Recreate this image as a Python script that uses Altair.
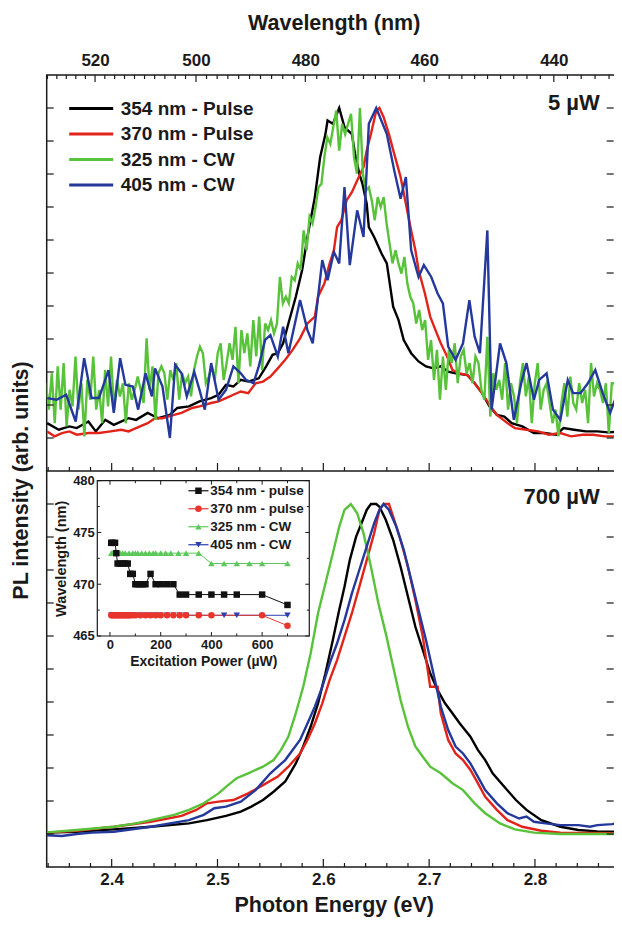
import altair as alt
import pandas as pd

FONT = "Liberation Sans"
INK = "#1a1a1a"
HC = 1239.84  # eV*nm, photon energy <-> wavelength

series_names = ["354 nm - Pulse", "370 nm - Pulse", "325 nm - CW", "405 nm - CW"]
series_colors = ["#000000", "#e2231a", "#58c23a", "#24399b"]
inset_names = ["354 nm - pulse", "370 nm - pulse", "325 nm - CW", "405 nm - CW"]
inset_colors = ["#111111", "#e8362c", "#5cc85a", "#2a3fae"]
inset_shapes = ["square", "circle", "triangle-up", "triangle-down"]

x_domain = [2.3386, 2.881]
y_domain = [-0.1, 2.3]          # bottom panel -0.1..1.1, top panel 1.1..2.3
panel_shift = 1.2
energy_major = [2.4, 2.5, 2.6, 2.7, 2.8]
energy_minor = [2.34, 2.36, 2.38, 2.42, 2.44, 2.46, 2.48, 2.52, 2.54, 2.56, 2.58,
                2.62, 2.64, 2.66, 2.68, 2.72, 2.74, 2.76, 2.78, 2.82, 2.84, 2.86, 2.88]
wl_major = [520, 500, 480, 460, 440]
wl_minor = [530, 528, 526, 524, 522, 518, 516, 514, 512, 510, 508, 506, 504, 502,
            498, 496, 494, 492, 490, 488, 486, 484, 482, 478, 476, 474, 472, 470,
            468, 466, 464, 462, 458, 456, 454, 452, 450, 448, 446, 444, 442, 438,
            436, 434, 432]
intensity_ticks = [0.0, 0.1, 0.2, 0.3, 0.4, 0.5, 0.6, 0.7, 0.8, 0.9, 1.0]
panel_labels = ["5 \u00b5W", "700 \u00b5W"]

# ---------------- top panel (5 uW): (energy eV, normalized PL) ----------------
top_black = [(2.339, 0.045), (2.350, 0.025), (2.360, 0.035), (2.367, 0.030), (2.378, 0.050),
             (2.385, 0.020), (2.394, 0.055), (2.402, 0.040), (2.416, 0.060), (2.423, 0.055),
             (2.434, 0.076), (2.444, 0.060), (2.455, 0.070), (2.462, 0.091), (2.473, 0.096),
             (2.483, 0.111), (2.494, 0.121), (2.501, 0.131), (2.508, 0.161), (2.515, 0.156),
             (2.522, 0.176), (2.529, 0.171), (2.539, 0.181), (2.546, 0.217), (2.552, 0.252),
             (2.557, 0.257), (2.562, 0.287), (2.567, 0.347), (2.574, 0.428), (2.580, 0.509),
             (2.585, 0.609), (2.592, 0.730), (2.597, 0.851), (2.602, 0.921), (2.604, 0.962),
             (2.609, 0.952), (2.615, 1.000), (2.620, 0.942), (2.627, 0.921), (2.630, 0.861),
             (2.634, 0.801), (2.637, 0.770), (2.641, 0.710), (2.643, 0.639), (2.648, 0.609),
             (2.655, 0.559), (2.660, 0.529), (2.666, 0.398), (2.671, 0.358), (2.676, 0.297),
             (2.683, 0.257), (2.690, 0.232), (2.697, 0.217), (2.704, 0.211), (2.711, 0.217),
             (2.718, 0.201), (2.725, 0.196), (2.736, 0.191), (2.743, 0.166), (2.750, 0.136),
             (2.757, 0.096), (2.764, 0.070), (2.771, 0.065), (2.778, 0.045), (2.788, 0.035),
             (2.799, 0.015), (2.809, 0.015), (2.820, 0.010), (2.827, 0.030), (2.837, 0.025),
             (2.848, 0.020), (2.859, 0.020), (2.869, 0.017), (2.881, 0.020)]

top_red = [(2.339, 0.020), (2.346, 0.005), (2.353, 0.015), (2.360, 0.020), (2.367, 0.010),
           (2.378, 0.015), (2.388, 0.015), (2.399, 0.020), (2.409, 0.025), (2.416, 0.020),
           (2.423, 0.030), (2.434, 0.045), (2.441, 0.060), (2.448, 0.060), (2.459, 0.070),
           (2.466, 0.076), (2.476, 0.091), (2.483, 0.096), (2.494, 0.106), (2.501, 0.111),
           (2.508, 0.121), (2.515, 0.131), (2.522, 0.141), (2.529, 0.136), (2.536, 0.166),
           (2.543, 0.171), (2.550, 0.186), (2.557, 0.211), (2.564, 0.237), (2.571, 0.267),
           (2.578, 0.302), (2.585, 0.347), (2.592, 0.368), (2.595, 0.428), (2.601, 0.468),
           (2.606, 0.529), (2.610, 0.569), (2.613, 0.639), (2.617, 0.660), (2.622, 0.720),
           (2.627, 0.745), (2.632, 0.780), (2.638, 0.821), (2.641, 0.871), (2.645, 0.921),
           (2.650, 0.992), (2.653, 1.000), (2.657, 0.972), (2.662, 0.921), (2.667, 0.861),
           (2.673, 0.791), (2.678, 0.710), (2.683, 0.629), (2.687, 0.569), (2.690, 0.509),
           (2.696, 0.438), (2.701, 0.368), (2.706, 0.327), (2.711, 0.287), (2.717, 0.247),
           (2.722, 0.206), (2.729, 0.196), (2.736, 0.191), (2.743, 0.166), (2.750, 0.136),
           (2.757, 0.101), (2.764, 0.070), (2.774, 0.045), (2.781, 0.030), (2.792, 0.025),
           (2.803, 0.020), (2.813, 0.010), (2.824, 0.015), (2.834, 0.005), (2.845, 0.010),
           (2.855, 0.010), (2.866, 0.005), (2.881, 0.005)]

top_green_E = [2.3378, 2.3406, 2.3434, 2.3462, 2.3490, 2.3518, 2.3546, 2.3574,
               2.3602, 2.3630, 2.3658, 2.3686, 2.3714, 2.3742, 2.3770, 2.3798, 2.3826, 2.3854,
               2.3882, 2.3910, 2.3938, 2.3966, 2.3994, 2.4022, 2.4050, 2.4078, 2.4106, 2.4134,
               2.4162, 2.4190, 2.4218, 2.4246, 2.4274, 2.4302, 2.4330, 2.4358, 2.4386, 2.4414,
               2.4442, 2.4470, 2.4498, 2.4526, 2.4554, 2.4582, 2.4610, 2.4638, 2.4666, 2.4694,
               2.4722, 2.4750, 2.4778, 2.4806, 2.4834, 2.4862, 2.4890, 2.4918, 2.4946, 2.4974,
               2.5002, 2.5030, 2.5058, 2.5086, 2.5114, 2.5142, 2.5170, 2.5198, 2.5226, 2.5254,
               2.5282, 2.5310, 2.5338, 2.5366, 2.5394, 2.5422, 2.5450, 2.5478, 2.5506, 2.5534,
               2.5562, 2.5590, 2.5618, 2.5646, 2.5674, 2.5702, 2.5730, 2.5758, 2.5786, 2.5814,
               2.5842, 2.5870, 2.5898, 2.5926, 2.5954, 2.5982, 2.6010, 2.6038, 2.6066, 2.6094,
               2.6122, 2.6150, 2.6178, 2.6206, 2.6234, 2.6262, 2.6290, 2.6318, 2.6346, 2.6374,
               2.6402, 2.6430, 2.6458, 2.6486, 2.6514, 2.6542, 2.6570, 2.6598, 2.6626, 2.6654,
               2.6682, 2.6710, 2.6738, 2.6766, 2.6794, 2.6822, 2.6850, 2.6878, 2.6906, 2.6934,
               2.6962, 2.6990, 2.7018, 2.7046, 2.7074, 2.7102, 2.7130, 2.7158, 2.7186, 2.7214,
               2.7242, 2.7270, 2.7298, 2.7326, 2.7354, 2.7382, 2.7410, 2.7438, 2.7466, 2.7494,
               2.7522, 2.7550, 2.7578, 2.7606, 2.7634, 2.7662, 2.7690, 2.7718, 2.7746, 2.7774,
               2.7802, 2.7830, 2.7858, 2.7886, 2.7914, 2.7942, 2.7970, 2.7998, 2.8026, 2.8054,
               2.8082, 2.8110, 2.8138, 2.8166, 2.8194, 2.8222, 2.8250, 2.8278, 2.8306, 2.8334,
               2.8362, 2.8390, 2.8418, 2.8446, 2.8474, 2.8502, 2.8530, 2.8558, 2.8586, 2.8614,
               2.8642, 2.8670, 2.8698, 2.8726, 2.8754, 2.8782, 2.8810]
top_green_I = [0.166, 0.086, 0.196, 0.045, 0.217, 0.086, 0.227, 0.035,
               0.146, 0.096, 0.247, 0.086, 0.166, 0.005, 0.176, 0.116, 0.247, 0.086,
               0.146, 0.045, 0.206, 0.096, 0.247, 0.086, 0.176, 0.126, 0.166, 0.045,
               0.166, 0.116, 0.146, 0.186, 0.146, 0.106, 0.302, 0.146, 0.217, 0.055,
               0.196, 0.217, 0.196, 0.116, 0.206, 0.176, 0.227, 0.116, 0.196, 0.166,
               0.186, 0.126, 0.206, 0.247, 0.277, 0.257, 0.166, 0.186, 0.217, 0.176,
               0.257, 0.287, 0.176, 0.227, 0.287, 0.237, 0.337, 0.166, 0.327, 0.257,
               0.317, 0.217, 0.357, 0.247, 0.368, 0.206, 0.347, 0.327, 0.357, 0.317,
               0.347, 0.488, 0.408, 0.428, 0.408, 0.488, 0.478, 0.529, 0.509, 0.629,
               0.569, 0.670, 0.650, 0.700, 0.760, 0.770, 0.851, 0.911, 0.891, 0.942,
               0.992, 0.871, 0.952, 0.921, 0.952, 0.982, 0.851, 0.801, 1.000, 0.801,
               0.750, 0.760, 0.720, 0.660, 0.730, 0.700, 0.730, 0.650, 0.589, 0.529,
               0.569, 0.529, 0.498, 0.549, 0.468, 0.428, 0.408, 0.347, 0.388, 0.327,
               0.357, 0.237, 0.297, 0.176, 0.267, 0.116, 0.247, 0.146, 0.267, 0.227,
               0.287, 0.166, 0.247, 0.267, 0.196, 0.227, 0.166, 0.247, 0.227, 0.146,
               0.116, 0.307, 0.065, 0.196, 0.146, 0.176, 0.116, 0.227, 0.086, 0.166,
               0.126, 0.045, 0.166, 0.227, 0.126, 0.186, 0.045, 0.166, 0.227, 0.086,
               0.146, 0.166, 0.106, 0.045, 0.086, 0.005, 0.106, 0.166, 0.065, 0.186,
               0.106, 0.086, 0.166, 0.106, 0.146, 0.045, 0.227, 0.126, 0.166, 0.146,
               0.106, 0.166, 0.015, 0.166, 0.166, 0.065, 0.146]
top_green = list(zip(top_green_E, top_green_I))

top_blue = [(2.339, 0.121), (2.348, 0.116), (2.357, 0.131), (2.366, 0.050), (2.374, 0.242),
            (2.381, 0.121), (2.388, 0.121), (2.397, 0.206), (2.402, 0.076), (2.408, 0.242),
            (2.413, 0.161), (2.420, 0.156), (2.425, 0.086), (2.432, 0.196), (2.438, 0.126),
            (2.441, 0.211), (2.448, 0.156), (2.455, 0.000), (2.460, 0.222), (2.466, 0.196),
            (2.471, 0.126), (2.478, 0.201), (2.483, 0.146), (2.488, 0.086), (2.494, 0.227),
            (2.501, 0.116), (2.508, 0.146), (2.515, 0.217), (2.522, 0.196), (2.527, 0.176),
            (2.534, 0.166), (2.539, 0.217), (2.545, 0.297), (2.550, 0.312), (2.557, 0.247),
            (2.562, 0.337), (2.567, 0.257), (2.578, 0.418), (2.585, 0.327), (2.590, 0.287),
            (2.599, 0.539), (2.604, 0.478), (2.610, 0.564), (2.615, 0.529), (2.620, 0.760),
            (2.625, 0.524), (2.632, 0.690), (2.638, 0.609), (2.643, 0.952), (2.650, 1.000),
            (2.660, 0.921), (2.667, 0.811), (2.673, 0.725), (2.678, 0.791), (2.683, 0.569),
            (2.690, 0.488), (2.695, 0.524), (2.702, 0.488), (2.708, 0.438), (2.713, 0.408),
            (2.718, 0.277), (2.725, 0.237), (2.732, 0.287), (2.738, 0.418), (2.743, 0.307),
            (2.748, 0.257), (2.755, 0.629), (2.759, 0.086), (2.767, 0.287), (2.773, 0.227),
            (2.780, 0.055), (2.787, 0.166), (2.792, 0.227), (2.799, 0.116), (2.804, 0.176),
            (2.811, 0.196), (2.817, 0.086), (2.824, 0.055), (2.831, 0.176), (2.836, 0.136),
            (2.843, 0.136), (2.850, 0.166), (2.857, 0.206), (2.864, 0.136), (2.871, 0.076),
            (2.878, 0.136), (2.881, 0.086)]

# ---------------- bottom panel (700 uW) ----------------
bot_black = [(2.339, 0.004), (2.367, 0.007), (2.402, 0.014), (2.437, 0.022), (2.473, 0.032),
             (2.490, 0.042), (2.508, 0.055), (2.522, 0.068), (2.532, 0.083), (2.543, 0.103),
             (2.553, 0.128), (2.564, 0.159), (2.574, 0.214), (2.581, 0.265), (2.588, 0.325),
             (2.595, 0.396), (2.602, 0.487), (2.609, 0.588), (2.615, 0.679), (2.620, 0.749),
             (2.625, 0.830), (2.631, 0.901), (2.636, 0.941), (2.641, 0.982), (2.645, 1.000),
             (2.650, 1.000), (2.653, 0.992), (2.659, 0.952), (2.666, 0.891), (2.673, 0.810),
             (2.680, 0.719), (2.687, 0.628), (2.694, 0.558), (2.701, 0.487), (2.708, 0.436),
             (2.715, 0.396), (2.722, 0.366), (2.729, 0.335), (2.739, 0.295), (2.746, 0.255),
             (2.753, 0.224), (2.760, 0.184), (2.771, 0.143), (2.782, 0.103), (2.792, 0.073),
             (2.806, 0.042), (2.824, 0.022), (2.841, 0.012), (2.859, 0.008), (2.881, 0.006)]

bot_red = [(2.339, 0.004), (2.367, 0.010), (2.402, 0.022), (2.437, 0.037), (2.466, 0.055),
           (2.480, 0.073), (2.490, 0.093), (2.501, 0.098), (2.515, 0.103), (2.529, 0.123),
           (2.543, 0.148), (2.557, 0.174), (2.567, 0.204), (2.578, 0.244), (2.585, 0.285),
           (2.592, 0.335), (2.599, 0.396), (2.606, 0.467), (2.613, 0.527), (2.620, 0.598),
           (2.627, 0.669), (2.634, 0.749), (2.641, 0.830), (2.648, 0.911), (2.653, 0.982),
           (2.657, 1.000), (2.662, 1.000), (2.667, 0.952), (2.673, 0.891), (2.680, 0.810),
           (2.687, 0.709), (2.694, 0.598), (2.701, 0.446), (2.708, 0.446), (2.711, 0.366),
           (2.718, 0.285), (2.725, 0.244), (2.732, 0.224), (2.739, 0.194), (2.746, 0.154),
           (2.753, 0.113), (2.764, 0.073), (2.774, 0.042), (2.788, 0.022), (2.806, 0.010),
           (2.824, 0.004), (2.881, 0.002)]

bot_green = [(2.339, 0.005), (2.367, 0.012), (2.402, 0.022), (2.423, 0.032), (2.437, 0.042),
             (2.459, 0.058), (2.473, 0.073), (2.487, 0.093), (2.501, 0.123), (2.508, 0.143),
             (2.518, 0.169), (2.529, 0.184), (2.543, 0.204), (2.553, 0.224), (2.560, 0.255),
             (2.567, 0.295), (2.574, 0.366), (2.581, 0.446), (2.588, 0.547), (2.595, 0.669),
             (2.602, 0.760), (2.609, 0.851), (2.615, 0.931), (2.620, 0.982), (2.626, 1.000),
             (2.632, 0.972), (2.638, 0.911), (2.645, 0.810), (2.652, 0.699), (2.659, 0.608),
             (2.666, 0.507), (2.673, 0.406), (2.680, 0.325), (2.687, 0.265), (2.694, 0.234),
             (2.701, 0.204), (2.711, 0.184), (2.722, 0.154), (2.732, 0.133), (2.743, 0.093),
             (2.753, 0.063), (2.767, 0.032), (2.781, 0.014), (2.799, 0.004), (2.824, 0.000),
             (2.881, 0.000)]

bot_blue = [(2.339, -0.004), (2.353, -0.006), (2.367, 0.000), (2.381, 0.004), (2.402, 0.007),
            (2.437, 0.022), (2.473, 0.042), (2.487, 0.058), (2.497, 0.078), (2.508, 0.083),
            (2.522, 0.098), (2.536, 0.133), (2.550, 0.184), (2.564, 0.224), (2.578, 0.285),
            (2.585, 0.335), (2.592, 0.386), (2.599, 0.446), (2.606, 0.517), (2.613, 0.578),
            (2.620, 0.648), (2.627, 0.729), (2.634, 0.800), (2.641, 0.871), (2.648, 0.941),
            (2.653, 0.982), (2.657, 1.000), (2.662, 0.982), (2.669, 0.931), (2.676, 0.861),
            (2.683, 0.770), (2.690, 0.679), (2.697, 0.588), (2.704, 0.487), (2.711, 0.386),
            (2.718, 0.315), (2.725, 0.265), (2.732, 0.244), (2.739, 0.214), (2.746, 0.174),
            (2.753, 0.133), (2.764, 0.093), (2.774, 0.063), (2.785, 0.047), (2.792, 0.053),
            (2.799, 0.037), (2.810, 0.032), (2.824, 0.027), (2.841, 0.027), (2.852, 0.022),
            (2.859, 0.027), (2.873, 0.030), (2.881, 0.034)]

# ---------------- inset: peak wavelength vs excitation power ----------------
ins_black_P = [5, 10, 20, 25, 30, 40, 50, 60, 70, 80, 90, 100, 110, 120, 130, 140, 160,
               180, 200, 225, 250, 275, 300, 350, 400, 450, 500, 600, 700]
ins_black_W = [474, 474, 474, 473, 472, 472, 472, 472, 472, 471, 471, 470, 470, 470, 470,
               470, 471, 470, 470, 470, 470, 469, 469, 469, 469, 469, 469, 469, 468]
ins_red_P = [5, 10, 15, 20, 25, 30, 35, 40, 45, 50, 55, 60, 65, 70, 75, 80, 90, 100, 120,
             140, 160, 180, 200, 225, 250, 275, 300, 350, 400, 600, 700]
ins_red_W = [467, 467, 467, 467, 467, 467, 467, 467, 467, 467, 467, 467, 467, 467, 467,
             467, 467, 467, 467, 467, 467, 467, 467, 467, 467, 467, 467, 467, 467, 467, 466]
ins_green_P = [5, 10, 20, 30, 40, 50, 60, 75, 90, 100, 110, 125, 140, 155, 170, 180, 200,
               220, 240, 270, 300, 350, 400, 450, 500, 550, 600, 700]
ins_green_W = [473, 473, 473, 473, 473, 473, 473, 473, 473, 473, 473, 473, 473, 473, 473,
               473, 473, 473, 473, 473, 473, 473, 472, 472, 472, 472, 472, 472]
ins_blue_P = [5, 10, 15, 20, 25, 30, 35, 40, 45, 50, 55, 60, 65, 70, 75, 80, 90, 100, 120,
              140, 160, 180, 200, 225, 250, 275, 300, 350, 450, 500, 700]
ins_blue_W = [467, 467, 467, 467, 467, 467, 467, 467, 467, 467, 467, 467, 467, 467, 467,
              467, 467, 467, 467, 467, 467, 467, 467, 467, 467, 467, 467, 467, 467, 467, 467]
ins_x_domain = [-50, 786]
ins_y_domain = [465, 480]
ins_x_major = [0, 200, 400, 600]
ins_x_minor = [100, 300, 500, 700]
ins_y_major = [465, 470, 475, 480]
ins_y_minor = [467.5, 472.5, 477.5]

# ---------------- layout (pixels) ----------------
W, H = 574, 792
MID = H / 2
VIS_R = W - 7            # right edge visible inside the 622 px page
INS_L, INS_R, INS_T, INS_B = 50.6, 262.6, 405.7, 561.0

# ---------------- tables ----------------
rows = []
for panel, sets in (("top", [top_black, top_red, top_green, top_blue]),
                    ("bottom", [bot_black, bot_red, bot_green, bot_blue])):
    for name, pts in zip(series_names, sets):
        for e, i in pts:
            rows.append({"E": e, "I": i, "series": name, "panel": panel})
spec_df = pd.DataFrame(rows)

ins_rows = []
for name, P, Wl in ((inset_names[3], ins_blue_P, ins_blue_W),
                    (inset_names[1], ins_red_P, ins_red_W),
                    (inset_names[2], ins_green_P, ins_green_W),
                    (inset_names[0], ins_black_P, ins_black_W)):
    for p, w in zip(P, Wl):
        ins_rows.append({"P": p, "W": w, "series": name})
ins_df = pd.DataFrame(ins_rows)

shift_expr = f"datum.I + (datum.panel == 'top' ? {panel_shift} : 0)"

xs = alt.Scale(domain=x_domain, nice=False, zero=False)
ys = alt.Scale(domain=y_domain, nice=False, zero=False)

bold = dict(labelFont=FONT, labelFontWeight="bold", labelColor=INK,
            titleFont=FONT, titleFontWeight="bold", titleColor=INK, grid=False)

main_legend = alt.Legend(title=None, orient="none", legendX=35, legendY=24,
                         symbolType="M-4,0L4,0", symbolSize=121, symbolStrokeWidth=3,
                         labelFont=FONT, labelFontSize=19, labelFontWeight="bold",
                         labelColor=INK, labelOffset=20, rowPadding=5.5, padding=0)

lines = alt.Chart(spec_df).transform_calculate(yy=shift_expr).mark_line(
    strokeWidth=2.4, clip=True
).encode(
    x=alt.X("E:Q", scale=xs, axis=alt.Axis(
        orient="bottom", values=energy_major, format=".1f", labelFontSize=17,
        labelPadding=5, ticks=False, domain=False, title="Photon Energy (eV)",
        titleFontSize=21.5, titlePadding=7, **bold)),
    y=alt.Y("yy:Q", scale=ys, axis=alt.Axis(
        orient="left", labels=False, ticks=False, domain=False,
        title="PL intensity (arb. units)", titleFontSize=21.5, titlePadding=14,
        titleY=405, **bold)),
    color=alt.Color("series:N", scale=alt.Scale(domain=series_names, range=series_colors),
                    legend=main_legend),
    detail="panel:N",
)


def xrules(values, y0, y1):
    return alt.Chart(pd.DataFrame({"v": values})).mark_rule(
        color=INK, strokeWidth=1.2).encode(
        x=alt.X("v:Q", scale=xs, axis=None), y=alt.value(y0), y2=alt.value(y1))


wl_major_layer = alt.Chart(pd.DataFrame({"wl": wl_major})).transform_calculate(
    E=f"{HC}/datum.wl").mark_rule(color=INK, strokeWidth=1.2).encode(
    x=alt.X("E:Q", scale=xs, axis=alt.Axis(
        orient="top", values=[HC / w for w in wl_major],
        labelExpr=f"format({HC}/datum.value, '.0f')", labelFontSize=17, labelPadding=6,
        ticks=False, domain=False, title="Wavelength (nm)", titleFontSize=21.5,
        titlePadding=17, **bold)),
    y=alt.value(0), y2=alt.value(7))

wl_minor_layer = alt.Chart(pd.DataFrame({"wl": wl_minor})).transform_calculate(
    E=f"{HC}/datum.wl").mark_rule(color=INK, strokeWidth=1.2).encode(
    x=alt.X("E:Q", scale=xs, axis=None), y=alt.value(0), y2=alt.value(4))

ytick_df = pd.DataFrame({"I": intensity_ticks * 2,
                         "panel": ["bottom"] * len(intensity_ticks) + ["top"] * len(intensity_ticks)})


def yrules(x0, x1):
    return alt.Chart(ytick_df).transform_calculate(yy=shift_expr).mark_rule(
        color=INK, strokeWidth=1.2).encode(
        y=alt.Y("yy:Q", scale=ys, axis=None), x=alt.value(x0), x2=alt.value(x1))


divider = alt.Chart(pd.DataFrame({"yy": [panel_shift + y_domain[0]]})).mark_rule(
    color=INK, strokeWidth=1.5).encode(y=alt.Y("yy:Q", scale=ys, axis=None))

label_top = alt.Chart(pd.DataFrame({"t": [panel_labels[0]]})).mark_text(
    font=FONT, fontSize=22, fontWeight="bold", color=INK, align="right", baseline="middle"
).encode(text="t:N", x=alt.value(553), y=alt.value(28))
label_bot = alt.Chart(pd.DataFrame({"t": [panel_labels[1]]})).mark_text(
    font=FONT, fontSize=22, fontWeight="bold", color=INK, align="right", baseline="middle"
).encode(text="t:N", x=alt.value(553), y=alt.value(422))

main = alt.layer(
    lines,
    xrules(energy_major, H, H - 8), xrules(energy_minor, H, H - 4),
    xrules(energy_major, MID, MID - 8), xrules(energy_minor, MID, MID - 4),
    wl_major_layer, wl_minor_layer,
    yrules(0, 7), yrules(VIS_R, VIS_R - 7),
    divider, label_top, label_bot,
).resolve_axis(x="independent", y="independent")

# ---------------- inset ----------------
ixs = alt.Scale(domain=ins_x_domain, range=[INS_L, INS_R], nice=False, zero=False)
iys = alt.Scale(domain=ins_y_domain, range=[INS_B, INS_T], nice=False, zero=False)
ins_xaxis = alt.Axis(orient="bottom", offset=-(H - INS_B), values=ins_x_major,
                     labelFontSize=13, labelPadding=3, ticks=False, domain=False,
                     title="Excitation Power (\u00b5W)", titleFontSize=14, titlePadding=3,
                     **bold)
ins_yaxis = alt.Axis(orient="left", offset=-INS_L, values=ins_y_major,
                     labelFontSize=13, labelPadding=3, ticks=False, domain=False,
                     title="Wavelength (nm)", titleFontSize=14.5, titlePadding=4, **bold)
ins_legend_common = dict(title=None, orient="none", legendX=145, legendY=409,
                         labelFont=FONT, labelFontSize=13.5, labelFontWeight="bold",
                         labelColor=INK, symbolSize=42, labelOffset=5, rowPadding=3,
                         padding=0)
ins_point_legend = alt.Legend(**ins_legend_common)
ins_line_legend = alt.Legend(symbolType="M-3.1,0L3.1,0", symbolStrokeWidth=1.2,
                             labelOpacity=0, **ins_legend_common)
ins_cscale = alt.Scale(domain=inset_names, range=inset_colors)

frame = alt.Chart(pd.DataFrame({"x0": [ins_x_domain[0]], "x1": [ins_x_domain[1]],
                                "y0": [ins_y_domain[0]], "y1": [ins_y_domain[1]]})).mark_rect(
    fill="white", stroke=INK, strokeWidth=1.2).encode(
    x=alt.X("x0:Q", scale=ixs, axis=ins_xaxis), x2="x1:Q",
    y=alt.Y("y0:Q", scale=iys, axis=ins_yaxis), y2="y1:Q")

ins_lines = alt.Chart(ins_df).mark_line(strokeWidth=1).encode(
    x=alt.X("P:Q", scale=ixs, axis=ins_xaxis),
    y=alt.Y("W:Q", scale=iys, axis=ins_yaxis),
    color=alt.Color("series:N", scale=ins_cscale, legend=ins_line_legend))

ins_points = alt.Chart(ins_df).mark_point(filled=True, size=42, opacity=1).encode(
    x=alt.X("P:Q", scale=ixs, axis=ins_xaxis),
    y=alt.Y("W:Q", scale=iys, axis=ins_yaxis),
    color=alt.Color("series:N", scale=ins_cscale, legend=ins_point_legend),
    shape=alt.Shape("series:N", scale=alt.Scale(domain=inset_names, range=inset_shapes),
                    legend=ins_point_legend))


def ixrules(values, y0, y1):
    return alt.Chart(pd.DataFrame({"v": values})).mark_rule(color=INK, strokeWidth=1).encode(
        x=alt.X("v:Q", scale=ixs, axis=ins_xaxis), y=alt.value(y0), y2=alt.value(y1))


def iyrules(values, x0, x1):
    return alt.Chart(pd.DataFrame({"v": values})).mark_rule(color=INK, strokeWidth=1).encode(
        y=alt.Y("v:Q", scale=iys, axis=ins_yaxis), x=alt.value(x0), x2=alt.value(x1))


inset = alt.layer(
    frame,
    ixrules(ins_x_major, INS_B, INS_B - 4), ixrules(ins_x_minor, INS_B, INS_B - 2.5),
    ixrules(ins_x_major, INS_T, INS_T + 4), ixrules(ins_x_minor, INS_T, INS_T + 2.5),
    iyrules(ins_y_major, INS_L, INS_L + 4), iyrules(ins_y_minor, INS_L, INS_L + 2.5),
    iyrules(ins_y_major, INS_R, INS_R - 4), iyrules(ins_y_minor, INS_R, INS_R - 2.5),
    ins_lines, ins_points,
).resolve_scale(color="independent", shape="independent")

chart = alt.layer(main, inset).resolve_scale(
    x="independent", y="independent", color="independent", shape="independent"
).properties(
    width=W, height=H,
    padding={"left": 38.7, "top": 67, "right": -7, "bottom": 51},
    autosize=alt.AutoSizeParams(type="none"),
).configure_view(stroke=INK, strokeWidth=1.5)

chart.save("out.html", embed_options={"renderer": "svg", "actions": False})
